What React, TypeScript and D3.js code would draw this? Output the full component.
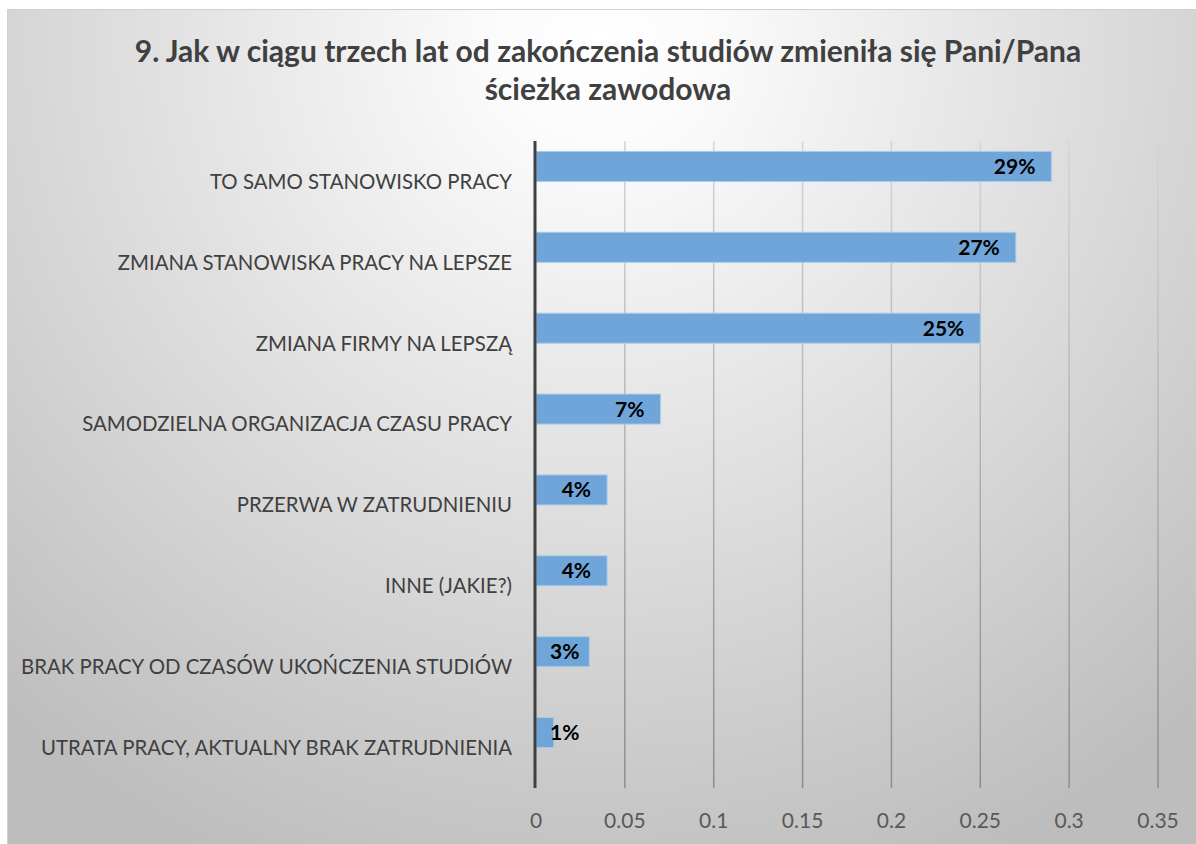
import React, { useEffect, useRef } from "react";
import * as d3 from "d3";

const categories = [
  "TO SAMO STANOWISKO PRACY",
  "ZMIANA STANOWISKA PRACY NA LEPSZE",
  "ZMIANA FIRMY NA LEPSZĄ",
  "SAMODZIELNA ORGANIZACJA CZASU PRACY",
  "PRZERWA W ZATRUDNIENIU",
  "INNE (JAKIE?)",
  "BRAK PRACY OD CZASÓW UKOŃCZENIA STUDIÓW",
  "UTRATA PRACY, AKTUALNY BRAK ZATRUDNIENIA",
];
const values = [0.29, 0.27, 0.25, 0.07, 0.04, 0.04, 0.03, 0.01];
const valueLabels = ["29%", "27%", "25%", "7%", "4%", "4%", "3%", "1%"];
const tickValues = [0, 0.05, 0.1, 0.15, 0.2, 0.25, 0.3, 0.35];
const titleLines = [
  "9. Jak w ciągu trzech lat od zakończenia studiów zmieniła się Pani/Pana",
  "ścieżka zawodowa",
];

const W = 1196;
const H = 844;
const FONT = "Lato, 'Open Sans', sans-serif";

export default function App() {
  const ref = useRef<SVGSVGElement | null>(null);

  useEffect(() => {
    const svg = d3.select(ref.current);
    svg.selectAll("*").remove();

    const defs = svg.append("defs");
    const rg = defs
      .append("radialGradient")
      .attr("id", "bg")
      .attr("gradientUnits", "userSpaceOnUse")
      .attr("cx", 600)
      .attr("cy", 40)
      .attr("r", 900);
    rg.append("stop").attr("offset", 0).attr("stop-color", "#ffffff");
    rg.append("stop").attr("offset", 0.12).attr("stop-color", "#fbfbfb");
    rg.append("stop").attr("offset", 1).attr("stop-color", "#bdbdbd");

    const gg = defs
      .append("linearGradient")
      .attr("id", "grid")
      .attr("gradientUnits", "userSpaceOnUse")
      .attr("x1", 0)
      .attr("x2", 0)
      .attr("y1", 141)
      .attr("y2", 788);
    gg.append("stop").attr("offset", 0).attr("stop-color", "#d4d4d4");
    gg.append("stop").attr("offset", 1).attr("stop-color", "#8c8c8c");

    svg.append("rect").attr("width", W).attr("height", H).attr("fill", "#ffffff");
    svg
      .append("rect")
      .attr("x", 7)
      .attr("y", 9)
      .attr("width", W - 7)
      .attr("height", H - 9)
      .attr("fill", "url(#bg)");
    svg
      .append("line")
      .attr("x1", 7)
      .attr("x2", W)
      .attr("y1", 9.5)
      .attr("y2", 9.5)
      .attr("stroke", "#d0d0d0")
      .attr("stroke-width", 1);
    svg
      .append("line")
      .attr("x1", 7.5)
      .attr("x2", 7.5)
      .attr("y1", 9)
      .attr("y2", H)
      .attr("stroke", "#d0d0d0")
      .attr("stroke-width", 1);

    const x = d3.scaleLinear().domain([0, 0.35]).range([536, 1158]);
    const y = d3.scaleBand<string>().domain(categories).range([141, 788]).padding(0);
    const barH = 30;

    // title
    const title = svg
      .append("text")
      .attr("font-family", FONT)
      .attr("font-weight", 700)
      .attr("font-size", 30)
      .attr("fill", "#404040")
      .attr("text-anchor", "middle");
    titleLines.forEach((t, i) => {
      title
        .append("tspan")
        .attr("x", 608)
        .attr("y", 62 + i * 38)
        .text(t);
    });

    // gridlines
    svg
      .append("g")
      .selectAll("line")
      .data(tickValues.slice(1))
      .join("line")
      .attr("x1", (d) => x(d))
      .attr("x2", (d) => x(d))
      .attr("y1", 141)
      .attr("y2", 788)
      .attr("stroke", "url(#grid)")
      .attr("stroke-width", 1.5);

    // tick labels
    svg
      .append("g")
      .selectAll("text")
      .data(tickValues)
      .join("text")
      .attr("x", (d) => x(d))
      .attr("y", 820)
      .attr("dy", "0.36em")
      .attr("text-anchor", "middle")
      .attr("font-family", FONT)
      .attr("font-size", 21)
      .attr("fill", "#595959")
      .text((d) => String(d));

    // bars
    const rows = categories.map((c, i) => ({ c, v: values[i], l: valueLabels[i] }));
    svg
      .append("g")
      .selectAll("rect")
      .data(rows)
      .join("rect")
      .attr("x", x(0))
      .attr("y", (d) => (y(d.c) as number) + y.bandwidth() / 2 - barH)
      .attr("width", (d) => x(d.v) - x(0))
      .attr("height", barH)
      .attr("fill", "#6fa5d8")
      .attr("stroke", "#a8cbea")
      .attr("stroke-width", 1);

    // axis line
    svg
      .append("line")
      .attr("x1", 535)
      .attr("x2", 535)
      .attr("y1", 141)
      .attr("y2", 788)
      .attr("stroke", "#404040")
      .attr("stroke-width", 3);

    // category labels
    svg
      .append("g")
      .selectAll("text")
      .data(rows)
      .join("text")
      .attr("x", 512)
      .attr("y", (d) => (y(d.c) as number) + y.bandwidth() / 2)
      .attr("dy", "0.36em")
      .attr("text-anchor", "end")
      .attr("font-family", FONT)
      .attr("font-size", 20.4)
      .attr("fill", "#404040")
      .text((d) => d.c);

    // value labels
    const vl = svg
      .append("g")
      .selectAll("text")
      .data(rows)
      .join("text")
      .attr("y", (d) => (y(d.c) as number) + y.bandwidth() / 2 - barH / 2)
      .attr("dy", "0.36em")
      .attr("text-anchor", "start")
      .attr("font-family", FONT)
      .attr("font-weight", 700)
      .attr("font-size", 21)
      .attr("fill", "#000000")
      .text((d) => d.l);
    vl.each(function (d) {
      const el = this as SVGTextElement;
      const w = el.getComputedTextLength();
      const xs = Math.max(x(d.v) - 16 - w, 550);
      d3.select(el).attr("x", xs);
    });
  }, []);

  return (
    <svg
      ref={ref}
      width={W}
      height={H}
      style={{ position: "fixed", left: 0, top: 0, display: "block" }}
    />
  );
}
